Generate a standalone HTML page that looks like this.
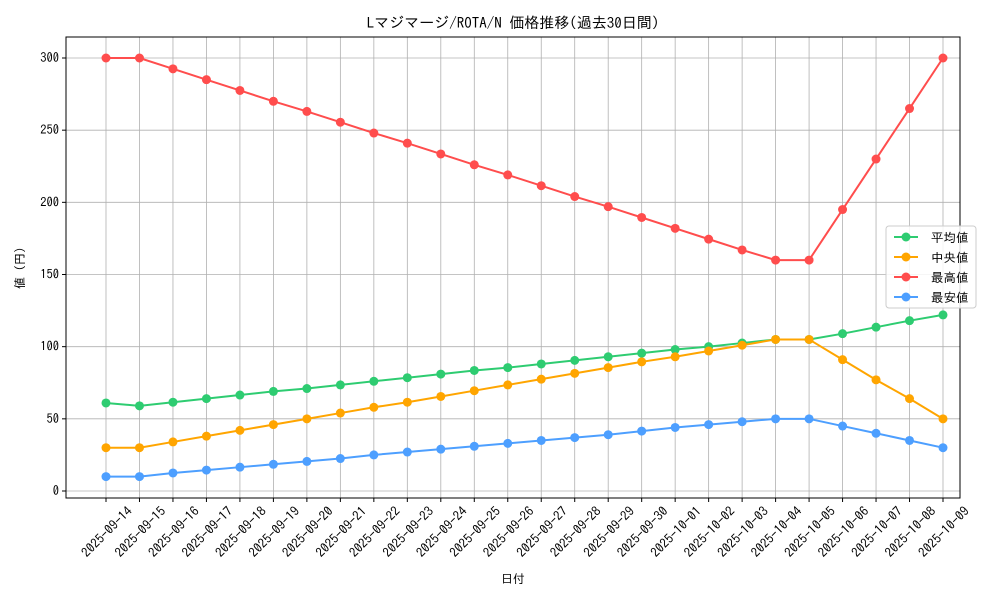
<!DOCTYPE html>
<html><head><meta charset="utf-8">
<style>
body{margin:0;background:#fff;}
svg text{font-family:"IPAGothic","Noto Sans CJK JP",sans-serif;fill:#000;}
</style></head>
<body>
<svg id="chart" width="1000" height="600" xmlns="http://www.w3.org/2000/svg">
<rect width="1000" height="600" fill="#fff"/>
<text x="513" y="28" font-size="15" text-anchor="middle">Lマジマージ/ROTA/N 価格推移(過去30日間)</text>
<g id="grid"></g><g id="series"></g><g id="axes"></g>
<text x="513" y="583" font-size="12" text-anchor="middle">日付</text>
<text transform="translate(24,268) rotate(-90)" font-size="12" text-anchor="middle">値 (円)</text>
<g id="legend"></g>
</svg>
<script>
const dates=["2025-09-14","2025-09-15","2025-09-16","2025-09-17","2025-09-18","2025-09-19","2025-09-20","2025-09-21","2025-09-22","2025-09-23","2025-09-24","2025-09-25","2025-09-26","2025-09-27","2025-09-28","2025-09-29","2025-09-30","2025-10-01","2025-10-02","2025-10-03","2025-10-04","2025-10-05","2025-10-06","2025-10-07","2025-10-08","2025-10-09"];
const avgValues=[61,59,61.5,64,66.5,69,71,73.5,76,78.5,81,83.5,85.5,88,90.5,93,95.5,98,100,102.5,105,105,109,113.5,118,122];
const medianValues=[30,30,34,38,42,46,50,54,58,61.5,65.5,69.5,73.5,77.5,81.5,85.5,89.5,93,97,101,105,105,91,77,64,50];
const maxValues=[300,300,292.5,285,277.5,270,263,255.5,248,241,233.5,226,219,211.5,204,197,189.5,182,174.5,167,160,160,195,230,265,300];
const minValues=[10,10,12.5,14.5,16.5,18.5,20.5,22.5,25,27,29,31,33,35,37,39,41.5,44,46,48,50,50,45,40,35,30];
const yTicks=[0,50,100,150,200,250,300];
const seriesNames=["平均値","中央値","最高値","最安値"];

const NS="http://www.w3.org/2000/svg";
const L=66,R=960,T=37,B=498;
const x=i=>106+i*(943-106)/(dates.length-1);
const y=v=>491-v*(491-58)/300;
function mk(tag,attrs,parent){const e=document.createElementNS(NS,tag);for(const k in attrs)e.setAttribute(k,attrs[k]);parent.appendChild(e);return e;}
const grid=document.getElementById('grid'),axes=document.getElementById('axes'),ser=document.getElementById('series'),leg=document.getElementById('legend');
dates.forEach((d,i)=>{
  const gl=mk('line',{x1:x(i),x2:x(i),y1:T,y2:B,stroke:'#b0b0b0','stroke-width':0.8},grid);
  
  mk('line',{x1:x(i),x2:x(i),y1:B,y2:B+4,stroke:'#000'},axes);
  const ax=x(i)+27,ay=B+14;
  const t=mk('text',{x:ax,y:ay,'font-size':13,'text-anchor':'end',transform:`rotate(-45 ${ax} ${ay})`},axes);
  t.textContent=d;
});
yTicks.forEach(v=>{
  const gl=mk('line',{x1:L,x2:R,y1:y(v),y2:y(v),stroke:'#b0b0b0','stroke-width':0.8},grid);
  
  mk('line',{x1:L-4,x2:L,y1:y(v),y2:y(v),stroke:'#000'},axes);
  const t=mk('text',{x:L-7,y:y(v)+4,'font-size':12.5,'text-anchor':'end'},axes);
  t.textContent=v;
});
const fr=mk('rect',{x:L,y:T,width:R-L,height:B-T,fill:'none',stroke:'#000','stroke-width':1},axes);

const all=[avgValues,medianValues,maxValues,minValues];
const colors=["#2ecc71","#ffa500","#ff4d4d","#4d9fff"];
const keys=["avg","median","max","min"];
all.forEach((vals,s)=>{
  const g=mk('g',{},ser);
  
  const p=mk('polyline',{points:vals.map((v,i)=>x(i)+','+y(v)).join(' '),fill:'none',stroke:colors[s],'stroke-width':2},g);
  
  vals.forEach((v,i)=>{const c=mk('circle',{cx:x(i),cy:y(v),r:4.5,fill:colors[s]},g);
    });
});
const lb=mk('rect',{x:886,y:226,width:90,height:82,rx:3,fill:'#fff','fill-opacity':0.85,stroke:'#ccc'},leg);

seriesNames.forEach((n,s)=>{
  const yy=237+s*20;
  const g=mk('g',{},leg);
  
  mk('line',{x1:894,x2:918,y1:yy,y2:yy,stroke:colors[s],'stroke-width':2},g);
  mk('circle',{cx:906,cy:yy,r:4.5,fill:colors[s]},g);
  const t=mk('text',{x:931,y:yy+5,'font-size':12.5},g);t.textContent=n;
});
</script>
</body></html>
